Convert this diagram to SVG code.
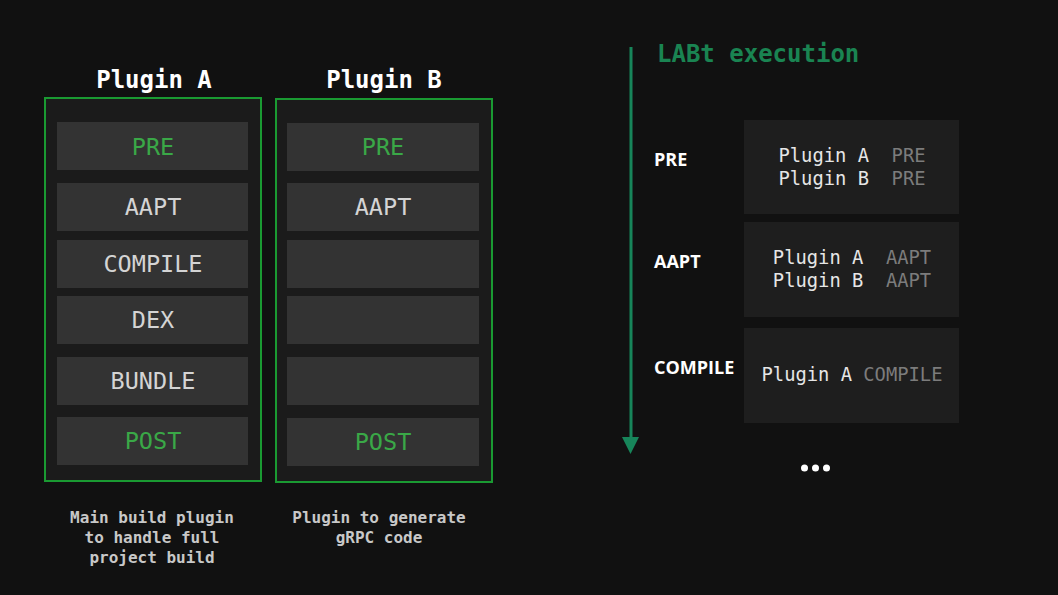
<svg xmlns="http://www.w3.org/2000/svg" width="1058" height="595" viewBox="0 0 1058 595">
  <defs>
    <style>
      .title{font-family:"DejaVu Sans Mono","Liberation Mono",monospace;font-weight:bold;font-size:24px;fill:#ffffff;text-anchor:middle}
      .plugin{fill:#1b1b1b;stroke:#1a9a32;stroke-width:2}
      .row{fill:#333333}
      .rt{font-family:"DejaVu Sans Mono","Liberation Mono",monospace;font-size:23.5px;fill:#d4d4d4;text-anchor:middle}
      .green{fill:#3aa847}
      .cap{font-family:"DejaVu Sans Mono","Liberation Mono",monospace;font-weight:bold;font-size:16px;fill:#c8c8c8;text-anchor:middle}
      .phase{font-family:"Open Sans","DejaVu Sans",sans-serif;font-weight:bold;font-size:18px;fill:#ffffff}
      .ebox{fill:#1e1e1e}
      .et{font-family:"DejaVu Sans Mono","Liberation Mono",monospace;font-size:18.8px;fill:#e6e6e6;text-anchor:middle}
      .dim{fill:#7c7c7c}
    </style>
  </defs>
  <rect x="0" y="0" width="1058" height="595" fill="#111111"/>

  <g id="pluginA">
    <text class="title" x="154" y="88">Plugin A</text>
    <rect class="plugin" x="45" y="98" width="216" height="383"/>
    <rect class="row" x="57" y="122" width="191" height="48"/>
    <text class="rt green" x="153" y="155">PRE</text>
    <rect class="row" x="57" y="183" width="191" height="48"/>
    <text class="rt" x="153" y="215">AAPT</text>
    <rect class="row" x="57" y="240" width="191" height="48"/>
    <text class="rt" x="153" y="272">COMPILE</text>
    <rect class="row" x="57" y="296" width="191" height="48"/>
    <text class="rt" x="153" y="328">DEX</text>
    <rect class="row" x="57" y="357" width="191" height="48"/>
    <text class="rt" x="153" y="389">BUNDLE</text>
    <rect class="row" x="57" y="417" width="191" height="48"/>
    <text class="rt green" x="153" y="449">POST</text>
    <text class="cap" x="152" y="523">Main build plugin</text>
    <text class="cap" x="152" y="543">to handle full</text>
    <text class="cap" x="152" y="563">project build</text>
  </g>

  <g id="pluginB">
    <text class="title" x="384" y="88">Plugin B</text>
    <rect class="plugin" x="276" y="99" width="216" height="383"/>
    <rect class="row" x="287" y="123" width="192" height="48"/>
    <text class="rt green" x="383" y="155">PRE</text>
    <rect class="row" x="287" y="183" width="192" height="48"/>
    <text class="rt" x="383" y="215">AAPT</text>
    <rect class="row" x="287" y="240" width="192" height="48"/>
    <rect class="row" x="287" y="296" width="192" height="48"/>
    <rect class="row" x="287" y="357" width="192" height="48"/>
    <rect class="row" x="287" y="418" width="192" height="48"/>
    <text class="rt green" x="383" y="450">POST</text>
    <text class="cap" x="379" y="523">Plugin to generate</text>
    <text class="cap" x="379" y="543">gRPC code</text>
  </g>

  <g id="connectors">
    <line x1="631" y1="47" x2="631" y2="438" stroke="#17855a" stroke-width="3"/>
    <path d="M622,437 L639,437 L630.5,454 Z" fill="#17855a"/>
  </g>

  <g id="execution">
    <text x="657" y="62" font-family="DejaVu Sans Mono, Liberation Mono, monospace" font-weight="bold" font-size="24" fill="#1a8452">LABt execution</text>
  </g>

  <g id="phasePRE">
    <text class="phase" x="654" y="166">PRE</text>
    <rect class="ebox" x="744" y="120" width="215" height="94"/>
    <text class="et" x="852" y="162" xml:space="preserve">Plugin A  <tspan class="dim">PRE</tspan></text>
    <text class="et" x="852" y="185" xml:space="preserve">Plugin B  <tspan class="dim">PRE</tspan></text>
  </g>

  <g id="phaseAAPT">
    <text class="phase" x="654" y="268">AAPT</text>
    <rect class="ebox" x="744" y="222" width="215" height="95"/>
    <text class="et" x="852" y="264" xml:space="preserve">Plugin A  <tspan class="dim">AAPT</tspan></text>
    <text class="et" x="852" y="287" xml:space="preserve">Plugin B  <tspan class="dim">AAPT</tspan></text>
  </g>

  <g id="phaseCOMPILE">
    <text class="phase" x="654" y="374">COMPILE</text>
    <rect class="ebox" x="744" y="328" width="215" height="95"/>
    <text class="et" x="852" y="381" xml:space="preserve">Plugin A <tspan class="dim">COMPILE</tspan></text>
  </g>

  <g id="more" fill="#ffffff">
    <circle cx="804.5" cy="468" r="3.5"/>
    <circle cx="815.5" cy="468" r="3.5"/>
    <circle cx="826.5" cy="468" r="3.5"/>
  </g>
</svg>
